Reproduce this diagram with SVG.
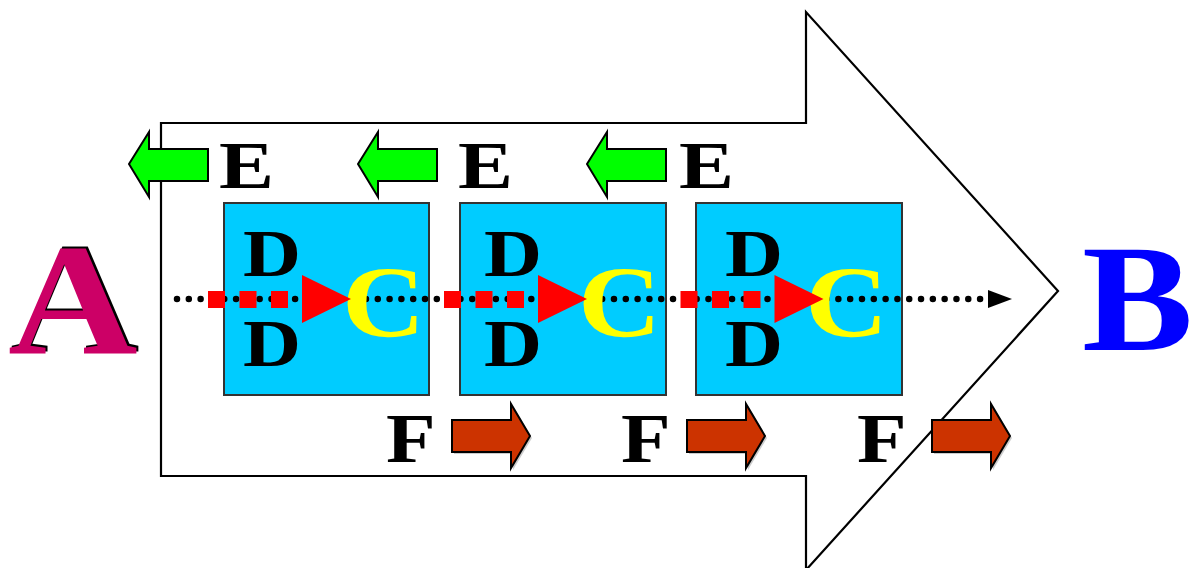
<svg xmlns="http://www.w3.org/2000/svg" width="1196" height="568" viewBox="0 0 1196 568">
<defs>
<style>
text{font-family:"Liberation Serif","Times New Roman",serif;font-weight:bold}
.e{font-size:67px;fill:#000}
.d{font-size:67.5px;fill:#000}
.f{font-size:70px;fill:#000}
.c{font-size:101px;fill:#FFFF00}
.sq{fill:#00CCFF;stroke:#333;stroke-width:2}
.rs{fill:#FF0000}
.ga{fill:#00FF00;stroke:#000;stroke-width:2;stroke-linejoin:miter}
.oa{fill:#CC3300;stroke:#000;stroke-width:2}
.os{fill:#999;opacity:0.5}
</style>
<polygon id="green" points="129,164 149,132 149,149 208,149 208,181 149,181 149,197"/>
<polygon id="orange" points="452,420 511,420 511,404 530,436 511,468 511,452 452,452"/>
<g id="reds">
<rect x="208" y="291" width="17" height="17"/>
<rect x="239.5" y="291" width="17" height="17"/>
<rect x="271" y="291" width="17" height="17"/>
<polygon points="302,275 351,299 302,323"/>
</g>
</defs>
<rect width="1196" height="568" fill="#fff"/>
<g id="bigArrow">
<path d="M161,123 L806,123 L806,12 L1058,291 L806,570 L806,476 L161,476 Z" fill="#fff" stroke="#000" stroke-width="2.2"/>
</g>
<g id="box1"><rect class="sq" x="224" y="203" width="205" height="192"/>
<text class="d" transform="translate(243,276) scale(1.19,1)">D</text><text class="d" transform="translate(243,366) scale(1.19,1)">D</text></g>
<g id="box2"><rect class="sq" x="460" y="203" width="206" height="192"/>
<text class="d" transform="translate(484,276) scale(1.19,1)">D</text><text class="d" transform="translate(484,366) scale(1.19,1)">D</text></g>
<g id="box3"><rect class="sq" x="696" y="203" width="206" height="192"/>
<text class="d" transform="translate(725,276) scale(1.19,1)">D</text><text class="d" transform="translate(725,366) scale(1.19,1)">D</text></g>
<g id="connectors">
<line x1="177" y1="299" x2="982" y2="299" stroke="#000" stroke-width="6.5" stroke-linecap="round" stroke-dasharray="0 11.81"/>
<polygon points="988,290 1012,299 988,308" fill="#000"/>
</g>
<g id="c1"><text class="c" transform="translate(342,337) scale(1.14,1)">C</text><use href="#reds" class="rs"/></g>
<g id="c2"><text class="c" transform="translate(578,337) scale(1.14,1)">C</text><use href="#reds" class="rs" transform="translate(236,0)"/></g>
<g id="c3"><text class="c" transform="translate(805,337) scale(1.14,1)">C</text><use href="#reds" class="rs" transform="translate(472.5,0)"/></g>
<g id="e1"><use href="#green" class="ga"/><text class="e" transform="translate(219,188) scale(1.23,1)">E</text></g>
<g id="e2"><use href="#green" class="ga" transform="translate(229,0)"/><text class="e" transform="translate(458,188) scale(1.23,1)">E</text></g>
<g id="e3"><use href="#green" class="ga" transform="translate(458,0)"/><text class="e" transform="translate(679,188) scale(1.23,1)">E</text></g>
<g id="f1"><use href="#orange" class="os" transform="translate(2,2)"/><use href="#orange" class="oa"/><text class="f" transform="translate(386,462) scale(1.16,1)">F</text></g>
<g id="f2"><use href="#orange" class="os" transform="translate(237,2)"/><use href="#orange" class="oa" transform="translate(235,0)"/><text class="f" transform="translate(621,462) scale(1.16,1)">F</text></g>
<g id="f3"><use href="#orange" class="os" transform="translate(482,2)"/><use href="#orange" class="oa" transform="translate(480,0)"/><text class="f" transform="translate(857,462) scale(1.16,1)">F</text></g>
<g id="A">
<text transform="translate(10,352) scale(1.13,1)" font-size="159" fill="#000">A</text>
<text transform="translate(8,354) scale(1.13,1)" font-size="159" fill="#CC0066">A</text>
</g>
<g id="B">
<text transform="translate(1082,350) scale(1.09,1)" font-size="153" fill="#0000FF">B</text>
</g>
</svg>
